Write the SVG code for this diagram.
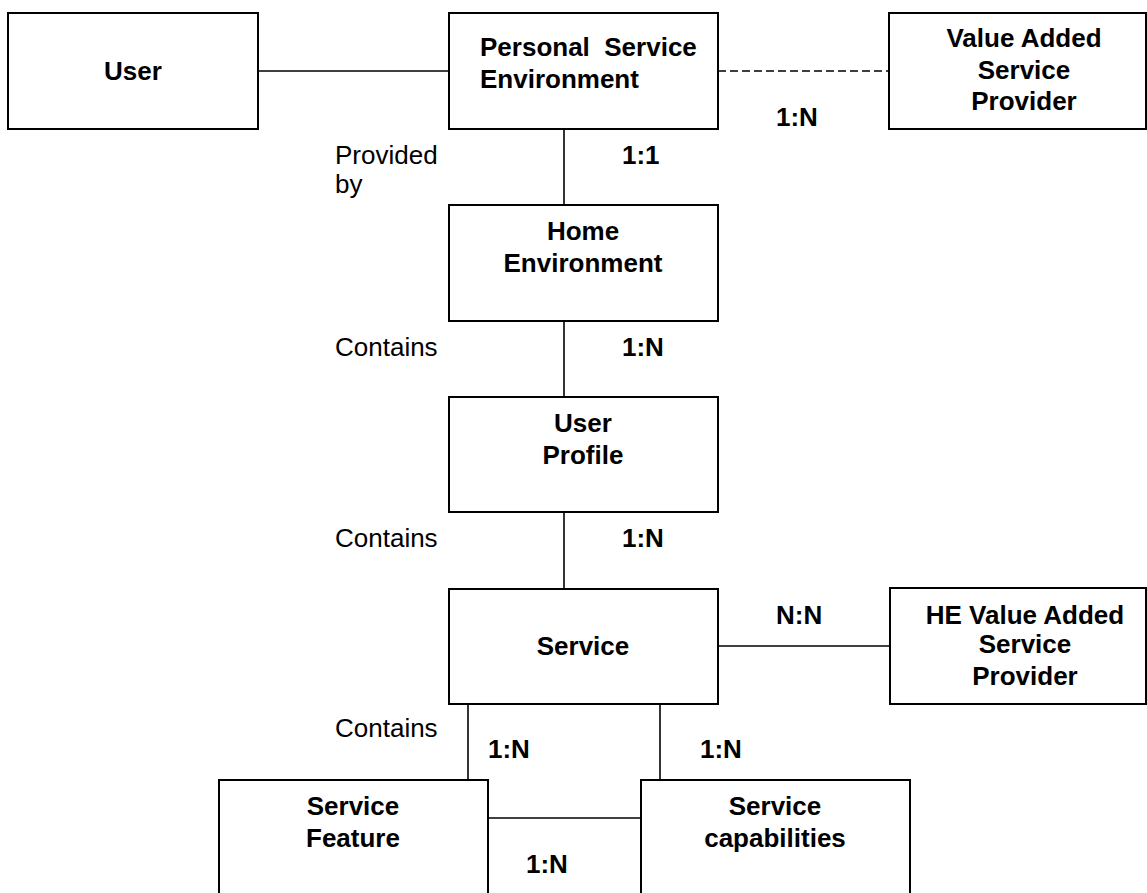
<svg xmlns="http://www.w3.org/2000/svg" width="1147" height="893" viewBox="0 0 1147 893">
<style>
.box{fill:#fff;stroke:#000;stroke-width:2}
.ln{stroke:#000;stroke-width:1.6;fill:none}
.b{font-family:"Liberation Sans",Arial,sans-serif;font-weight:bold;font-size:26px;fill:#000;text-anchor:middle}
.r{font-family:"Liberation Sans",Arial,sans-serif;font-size:26px;fill:#000}
.l{font-family:"Liberation Sans",Arial,sans-serif;font-weight:bold;font-size:26px;fill:#000}
</style>
<rect width="1147" height="893" fill="#fff"/>
<g id="connectors">
<line class="ln" x1="258" y1="71" x2="449" y2="71"/>
<line class="ln" x1="718" y1="71" x2="889" y2="71" stroke-dasharray="8,4"/>
<line class="ln" x1="564" y1="129" x2="564" y2="205"/>
<line class="ln" x1="564" y1="321" x2="564" y2="397"/>
<line class="ln" x1="564" y1="512" x2="564" y2="589"/>
<line class="ln" x1="718" y1="646" x2="890" y2="646"/>
<line class="ln" x1="468" y1="704" x2="468" y2="780"/>
<line class="ln" x1="660" y1="704" x2="660" y2="780"/>
<line class="ln" x1="488" y1="818" x2="641" y2="818"/>
<text class="r" x="335" y="164">Provided</text>
<text class="r" x="335" y="193">by</text>
<text class="l" x="622" y="164">1:1</text>
<text class="l" x="776" y="126">1:N</text>
<text class="r" x="335" y="356">Contains</text>
<text class="l" x="622" y="356">1:N</text>
<text class="r" x="335" y="547">Contains</text>
<text class="l" x="622" y="547">1:N</text>
<text class="l" x="776" y="624">N:N</text>
<text class="r" x="335" y="737">Contains</text>
<text class="l" x="488" y="758">1:N</text>
<text class="l" x="700" y="758">1:N</text>
<text class="l" x="526" y="873">1:N</text>
</g>
<g id="user">
<rect class="box" x="8" y="13" width="250" height="116"/>
<text class="b" x="133" y="80">User</text>
</g>
<g id="pse">
<rect class="box" x="449" y="13" width="269" height="116"/>
<text class="l" x="480" y="56" xml:space="preserve">Personal  Service</text>
<text class="l" x="480" y="88">Environment</text>
</g>
<g id="vasp">
<rect class="box" x="889" y="13" width="257" height="116"/>
<text class="b" x="1024" y="47">Value Added</text>
<text class="b" x="1024" y="79">Service</text>
<text class="b" x="1024" y="110">Provider</text>
</g>
<g id="home">
<rect class="box" x="449" y="205" width="269" height="116"/>
<text class="b" x="583" y="240">Home</text>
<text class="b" x="583" y="272">Environment</text>
</g>
<g id="profile">
<rect class="box" x="449" y="397" width="269" height="115"/>
<text class="b" x="583" y="432">User</text>
<text class="b" x="583" y="464">Profile</text>
</g>
<g id="service">
<rect class="box" x="449" y="589" width="269" height="115"/>
<text class="b" x="583" y="655">Service</text>
</g>
<g id="hevasp">
<rect class="box" x="890" y="588" width="256" height="116"/>
<text class="b" x="1025" y="624">HE Value Added</text>
<text class="b" x="1025" y="653">Service</text>
<text class="b" x="1025" y="685">Provider</text>
</g>
<g id="feature">
<rect class="box" x="219" y="780" width="269" height="130"/>
<text class="b" x="353" y="815">Service</text>
<text class="b" x="353" y="847">Feature</text>
</g>
<g id="capabilities">
<rect class="box" x="641" y="780" width="269" height="130"/>
<text class="b" x="775" y="815">Service</text>
<text class="b" x="775" y="847">capabilities</text>
</g>
</svg>
